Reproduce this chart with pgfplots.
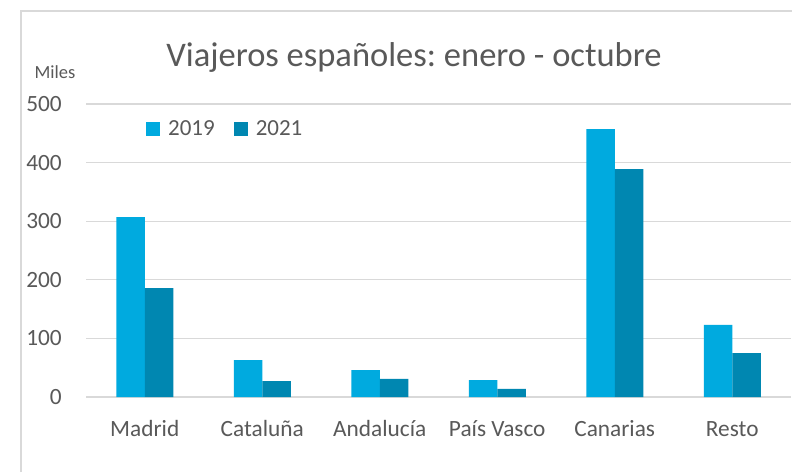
\documentclass[border=0pt]{standalone}
\usepackage{pgfplots}
\pgfplotsset{compat=1.18}
\usepackage{fontspec}
\setmainfont{Carlito}
\frenchspacing
\definecolor{c19}{HTML}{00AADF}
\definecolor{c21}{HTML}{0087B1}
\definecolor{txt}{HTML}{595959}
\definecolor{gridc}{HTML}{D9D9D9}
\begin{document}
\begin{tikzpicture}
\useasboundingbox (0pt,0pt) rectangle (792pt,-472pt);
\fill[white] (0pt,0pt) rectangle (792pt,-472pt);
\draw[gridc,line width=1.2pt] (21pt,-472pt) -- (21pt,-11pt) -- (792pt,-11pt);
\begin{axis}[
  at={(86pt,-397pt)}, anchor=south west,
  scale only axis, width=705pt, height=293pt,
  xmin=-0.5, xmax=5.5, ymin=0, ymax=500,
  ytick={0,100,...,500},
  xtick={0,...,5},
  xticklabels={Madrid,Cataluña,Andalucía,País Vasco,Canarias,Resto},
  axis line style={draw=none},
  major tick length=0pt,
  ymajorgrids, grid style={gridc,line width=1.2pt},
  ybar=0pt, bar width=28.5pt,
  tick label style={font=\fontsize{23.3}{26}\selectfont, text=txt},
  /pgf/number format/assume math mode=true,
  yticklabel style={anchor=east, inner sep=0pt, xshift=-24pt},
  xticklabel style={anchor=base, inner sep=0pt, yshift=-39pt},
  legend style={draw=none, fill=none, at={(0.085,0.915)}, anchor=west,
    legend columns=2, inner sep=0pt,
    font=\fontsize{23}{26}\selectfont, text=txt,
    /tikz/every odd column/.append style={column sep=6pt},
    /tikz/every even column/.append style={column sep=17pt}},
  legend image code/.code={\fill[#1,draw=none] (0pt,-7pt) rectangle (14pt,7pt);},
]
\addplot[fill=c19, draw=none] coordinates {(0,307)(1,63)(2,46)(3,29)(4,457)(5,123)};
\addplot[fill=c21, draw=none] coordinates {(0,186)(1,27)(2,31)(3,14)(4,389)(5,75)};
\legend{2019,2021}
\end{axis}
\node[anchor=base, text=txt, font=\fontsize{34.5}{38}\selectfont] at (414pt,-66pt) {Viajeros españoles: enero - octubre};
\node[anchor=base, text=txt, font=\fontsize{18.5}{22}\selectfont] at (55pt,-78pt) {Miles};
\end{tikzpicture}
\end{document}
